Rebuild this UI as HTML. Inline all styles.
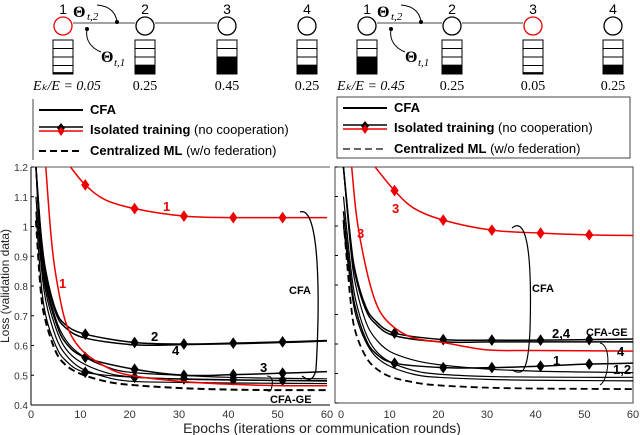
<!DOCTYPE html>
<html><head><meta charset="utf-8"><style>
body{margin:0;background:#fff;width:640px;height:435px;overflow:hidden}
svg{display:block;font-family:"Liberation Sans",sans-serif}
</style></head><body>
<svg id="c" width="640" height="435"></svg>
<script>
// ---- data ----
const yTicks=[0.4,0.5,0.6,0.7,0.8,0.9,1,1.1,1.2];
const yTickLabels=["0.4","0.5","0.6","0.7","0.8","0.9","1","1.1","1.2"];
const xTicks=[0,10,20,30,40,50,60];
const markerEpochs=[11,21,31,41,51];
// left panel
const L_isoRed_x=[8,11,15,21,31,41,51,60];
const L_isoRed_y=[1.2,1.14,1.09,1.06,1.035,1.03,1.03,1.03];
const L_cfaRed_x=[3,4,5,7,10,15,20,30,40,50,60];
const L_cfaRed_y=[1.2,0.98,0.84,0.68,0.59,0.53,0.50,0.48,0.47,0.465,0.465];
const L_iso2_x=[1,2,3,5,7,11,21,31,41,51,60];
const L_iso2_y=[1.2,0.98,0.85,0.72,0.67,0.638,0.61,0.605,0.608,0.612,0.617];
const L_iso4_y=[1.2,0.97,0.84,0.71,0.66,0.625,0.602,0.603,0.606,0.610,0.615];
const L_iso3_x=[1,2,3,5,7,11,21,31,41,51,60];
const L_iso3_y=[1.2,0.92,0.80,0.68,0.61,0.56,0.52,0.50,0.502,0.507,0.512];
const L_cfa_x=[1,2,3,5,7,10,15,20,30,40,50,60];
const L_cfaA_y=[1.2,0.95,0.82,0.69,0.62,0.57,0.53,0.51,0.50,0.493,0.49,0.488];
const L_cfaB_y=[1.2,0.92,0.78,0.66,0.59,0.545,0.51,0.495,0.487,0.484,0.482,0.48];
const L_cfaC_y=[1.1,0.88,0.75,0.63,0.57,0.525,0.495,0.48,0.476,0.474,0.473,0.472];
const L_ge_x=[1,2,3,5,7,11,21,31,41,51,60];
const L_ge_y=[1.05,0.82,0.70,0.60,0.55,0.51,0.493,0.488,0.485,0.483,0.482];
const L_cen_x=[1,2,3,5,7,10,15,20,30,40,50,60];
const L_cen_y=[1.02,0.78,0.68,0.58,0.535,0.505,0.48,0.468,0.457,0.452,0.45,0.45];
// right panel
const R_isoRed_x=[7,11,15,21,31,41,51,60];
const R_isoRed_y=[1.2,1.12,1.06,1.02,0.986,0.976,0.97,0.968];
const R_cfaRed_x=[2.2,3,4,6,8,11,15,21,30,40,60];
const R_cfaRed_y=[1.2,1.06,0.95,0.80,0.71,0.655,0.62,0.605,0.58,0.578,0.576];
const R_iso24_x=[0.5,2,3,5,7,11,21,31,41,51,60];
const R_iso24_y=[1.2,0.95,0.84,0.73,0.68,0.637,0.615,0.613,0.613,0.615,0.617];
const R_iso24b_y=[1.2,0.94,0.83,0.72,0.67,0.628,0.607,0.607,0.607,0.607,0.607];
const R_iso1_x=[0.5,2,3,5,7,11,21,31,41,51,60];
const R_iso1_y=[1.05,0.82,0.72,0.62,0.57,0.535,0.52,0.52,0.525,0.532,0.535];
const R_cfa_x=[0.5,2,3,5,7,10,15,20,30,40,50,60];
const R_cfaA_y=[1.2,0.92,0.80,0.68,0.62,0.575,0.545,0.53,0.515,0.508,0.505,0.503];
const R_cfaB_y=[1.1,0.86,0.75,0.64,0.58,0.54,0.51,0.498,0.49,0.488,0.487,0.487];
const R_cfaC_y=[1.0,0.80,0.70,0.61,0.56,0.525,0.497,0.487,0.48,0.477,0.476,0.475];
const R_cen_x=[0.5,2,3,5,7,10,15,20,30,40,50,60];
const R_cen_y=[1.02,0.74,0.64,0.56,0.52,0.49,0.47,0.46,0.452,0.449,0.448,0.447];

const NS="http://www.w3.org/2000/svg";
const svg=document.getElementById('c');
function el(t,a,p){const e=document.createElementNS(NS,t);for(const k in a)e.setAttribute(k,a[k]);(p||svg).appendChild(e);return e;}
function txt(s,a,p){const e=el('text',a,p);e.textContent=s;return e;}

function panel(x0,x1,yt,yb){
  return {sx:v=>x0+(x1-x0)*v/60, sy:v=>yb-(yb-yt)*(v-0.4)/0.8};
}
function smooth(pts){
  let d=`M${pts[0][0]},${pts[0][1]}`;
  for(let i=0;i<pts.length-1;i++){
    const p0=pts[i-1]||pts[i],p1=pts[i],p2=pts[i+1],p3=pts[i+2]||p2;
    const c1=[p1[0]+(p2[0]-p0[0])/6,p1[1]+(p2[1]-p0[1])/6];
    const c2=[p2[0]-(p3[0]-p1[0])/6,p2[1]-(p3[1]-p1[1])/6];
    d+=` C${c1[0]},${c1[1]} ${c2[0]},${c2[1]} ${p2[0]},${p2[1]}`;
  }
  return d;
}
function interp(xs,ys,x){for(let i=0;i<xs.length-1;i++){if(x>=xs[i]&&x<=xs[i+1]){const t=(x-xs[i])/(xs[i+1]-xs[i]);return ys[i]+t*(ys[i+1]-ys[i]);}}return ys[ys.length-1];}
function series(P,xs,ys,name,color,w,dash,markers,g){
  const pts=xs.map((x,i)=>[P.sx(x),P.sy(ys[i])]);
  const p=el('path',{d:smooth(pts),fill:'none',stroke:color,'stroke-width':w,'stroke-dasharray':dash||'none'},g);
  
  
  if(markers){markerEpochs.forEach(m=>{const cx=P.sx(m),cy=P.sy(interp(xs,ys,m));
    const d=el('path',{d:`M${cx},${cy-5} L${cx+3.5},${cy} L${cx},${cy+5} L${cx-3.5},${cy} Z`,fill:color,stroke:color,'stroke-width':1},g);
    
    });}
}

// ---- left panel ----
const PL=panel(31,327,167,405);
const gl=el('g',{});
el('line',{x1:31,y1:167,x2:31,y2:405,stroke:'#000','stroke-width':1},gl);
el('line',{x1:31,y1:405,x2:330,y2:405,stroke:'#000','stroke-width':1},gl);
el('line',{x1:31,y1:167,x2:330,y2:167,stroke:'#555','stroke-width':1},gl);
yTicks.forEach((v,i)=>{const y=PL.sy(v);el('line',{x1:31,y1:y,x2:34,y2:y,stroke:'#000'},gl);
  const t=txt(yTickLabels[i],{x:28,y:y+4,'font-size':10,'text-anchor':'end',fill:'#333'},gl);
  });
xTicks.forEach(v=>{const t=txt(String(v),{x:PL.sx(v),y:418,'font-size':11,'text-anchor':'middle',fill:'#333'},gl);
  });
series(PL,L_cen_x,L_cen_y,'centralized-line','#000',2,'7,4',false,gl);
series(PL,L_cfa_x,L_cfaA_y,'cfa-line-a','#000',1.2,null,false,gl);
series(PL,L_cfa_x,L_cfaB_y,'cfa-line-b','#000',1.2,null,false,gl);
series(PL,L_cfa_x,L_cfaC_y,'cfa-line-c','#000',1.2,null,false,gl);
series(PL,L_ge_x,L_ge_y,'cfa-ge-line','#000',1.2,null,true,gl);
series(PL,L_iso3_x,L_iso3_y,'isolated-3','#000',1.5,null,true,gl);
series(PL,L_iso2_x,L_iso4_y,'isolated-4','#000',1.5,null,false,gl);
series(PL,L_iso2_x,L_iso2_y,'isolated-2','#000',1.5,null,true,gl);
series(PL,L_cfaRed_x,L_cfaRed_y,'cfa-device-1','#e00',1.5,null,false,gl);
series(PL,L_isoRed_x,L_isoRed_y,'isolated-1','#e00',1.5,null,true,gl);
[['1',163,211,'#e00'],['1',59,288,'#e00'],['2',151,341,'#000'],['4',172,355,'#000'],['3',260,372,'#000']].forEach(a=>{
  const t=txt(a[0],{x:a[1],y:a[2],'font-size':13,'font-weight':'bold',fill:a[3]},gl);});
el('path',{d:'M300,212 C320,205 320,300 316,370 C312,385 305,378 302,376',fill:'none',stroke:'#000','stroke-width':1.3},gl);
txt('CFA',{x:289,y:294,'font-size':11,'font-weight':'bold'},gl);
el('path',{d:'M267,376 C272,376 273,380 272,386 C271,392 270,392 266,390',fill:'none',stroke:'#000','stroke-width':1},gl);
txt('CFA-GE',{x:270,y:403,'font-size':11,'font-weight':'bold'},gl);

// ---- right panel ----
const PR=panel(341,633,167,403);
const gr=el('g',{});
el('rect',{x:335,y:167,width:298,height:236,fill:'none',stroke:'#444','stroke-width':1},gr);
yTicks.forEach(v=>{const y=PR.sy(v);el('line',{x1:335,y1:y,x2:338,y2:y,stroke:'#000'},gr);});
xTicks.forEach(v=>{const t=txt(String(v),{x:PR.sx(v),y:418,'font-size':11,'text-anchor':'middle',fill:'#333'},gr);
  });
series(PR,R_cen_x,R_cen_y,'centralized-line','#000',1.8,'7,4',false,gr);
series(PR,R_cfa_x,R_cfaA_y,'cfa-line-a','#000',1.2,null,false,gr);
series(PR,R_cfa_x,R_cfaB_y,'cfa-line-b','#000',1.2,null,false,gr);
series(PR,R_cfa_x,R_cfaC_y,'cfa-line-c','#000',1.2,null,false,gr);
series(PR,R_iso1_x,R_iso1_y,'isolated-1','#000',1.5,null,true,gr);
series(PR,R_iso24_x,R_iso24b_y,'isolated-4','#000',1.5,null,false,gr);
series(PR,R_iso24_x,R_iso24_y,'isolated-2','#000',1.5,null,true,gr);
series(PR,R_cfaRed_x,R_cfaRed_y,'cfa-device-3','#e00',1.5,null,false,gr);
series(PR,R_isoRed_x,R_isoRed_y,'isolated-3','#e00',1.5,null,true,gr);
[['3',392,213,'#e00'],['3',357,238,'#e00'],['2,4',552,338,'#000'],['1',553,365,'#000'],['4',617,356,'#000'],['1,2',613,374,'#000']].forEach(a=>{
  const t=txt(a[0],{x:a[1],y:a[2],'font-size':13,'font-weight':'bold',fill:a[3]},gr);});
txt('CFA-GE',{x:586,y:336,'font-size':11,'font-weight':'bold'},gr);
el('path',{d:'M512,228 C528,215 532,260 530,330 C528,375 522,375 512,370',fill:'none',stroke:'#000','stroke-width':1.2},gr);
txt('CFA',{x:532,y:292,'font-size':11,'font-weight':'bold'},gr);
el('path',{d:'M600,343 C612,345 609,380 600,385',fill:'none',stroke:'#000','stroke-width':1},gr);

// axis titles
let t=txt('Loss (validation data)',{x:0,y:0,'font-size':12,'text-anchor':'middle',transform:'translate(9,286) rotate(-90)',fill:'#222'});

t=txt('Epochs (iterations or communication rounds)',{x:322,y:433,'font-size':14,'text-anchor':'middle',fill:'#222'});


// ---- legends ----
function legend(x,y,w,full){
  const g=el('g',{});
  if(full) el('rect',{x:x,y:y,width:w,height:61,fill:'none',stroke:'#444'},g);
  else el('line',{x1:x,y1:y,x2:x,y2:y+61,stroke:'#444'},g);
  const lx=x+6,tx=x+57;
  el('line',{x1:lx,y1:y+11,x2:lx+44,y2:y+11,stroke:'#000','stroke-width':2},g);
  txt('CFA',{x:tx,y:y+15,'font-size':13,'font-weight':'bold'},g);
  el('line',{x1:lx,y1:y+28,x2:lx+44,y2:y+28,stroke:'#000','stroke-width':1.5},g);
  el('line',{x1:lx,y1:y+32,x2:lx+44,y2:y+32,stroke:'#e00','stroke-width':1.5},g);
  const cx=lx+22;
  el('path',{d:`M${cx},${y+24} L${cx+4},${y+29} L${cx},${y+34} L${cx-4},${y+29}Z`,fill:'#000'},g);
  el('path',{d:`M${cx},${y+28} L${cx+3.5},${y+32} L${cx},${y+37} L${cx-3.5},${y+32}Z`,fill:'#e00'},g);
  const l2=txt('',{x:tx,y:y+35,'font-size':13},g);
  const b=document.createElementNS(NS,'tspan');b.setAttribute('font-weight','bold');b.textContent='Isolated training';l2.appendChild(b);
  const n=document.createElementNS(NS,'tspan');n.textContent=' (no cooperation)';l2.appendChild(n);
  el('line',{x1:lx,y1:y+52,x2:lx+44,y2:y+52,stroke:full?'#666':'#000','stroke-width':2,'stroke-dasharray':'7,4'},g);
  const l3=txt('',{x:tx,y:y+56,'font-size':13},g);
  const b2=document.createElementNS(NS,'tspan');b2.setAttribute('font-weight','bold');b2.textContent='Centralized ML';l3.appendChild(b2);
  const n2=document.createElementNS(NS,'tspan');n2.textContent=' (w/o federation)';l3.appendChild(n2);
}
legend(33,99,285,false);
legend(337,97,293,true);

// ---- topology diagrams ----
function topo(xs,red,fills,labelFirst){
  const g=el('g',{});
  xs.forEach((x,i)=>{
    txt(String(i+1),{x:x,y:14,'font-size':14,'text-anchor':'middle'},g);
    const c=el('circle',{cx:x,cy:26,r:9,fill:'#fff',stroke:i===red?'#e00':'#000','stroke-width':1.3},g);
    
    const bx=x-10,by=40,bh=34;
    el('rect',{x:bx,y:by,width:20,height:bh,fill:'#fff',stroke:'#000'},g);
    for(let k=1;k<4;k++) el('line',{x1:bx,y1:by+k*bh/4,x2:bx+20,y2:by+k*bh/4,stroke:'#000'},g);
    const fh=bh*fills[i]/0.5*0.55;
    el('rect',{x:bx,y:by+bh-fh,width:20,height:fh,fill:'#000'},g);
    txt(i===0?labelFirst:fills[i].toFixed(2),{x:i===0?x-30:x,y:90,'font-size':14,'font-family':'Liberation Serif','font-style':i===0?'italic':'normal','text-anchor':i===0?'start':'middle'},g);
  });
  el('line',{x1:xs[0]+10,y1:23,x2:xs[1]-10,y2:23,stroke:'#444'},g);
  el('line',{x1:xs[1]+10,y1:23,x2:xs[2]-10,y2:23,stroke:'#444'},g);
  el('circle',{cx:xs[0]+54,cy:22,r:2,fill:'#000'},g);
  el('circle',{cx:xs[0]+24,cy:29,r:2,fill:'#000'},g);
  el('path',{d:`M${xs[0]+34},${5} C${xs[0]+48},${6} ${xs[0]+53},${14} ${xs[0]+54},${22}`,fill:'none',stroke:'#000'},g);
  el('path',{d:`M${xs[0]+24},${29} C${xs[0]+22},${40} ${xs[0]+28},${48} ${xs[0]+38},${52}`,fill:'none',stroke:'#000'},g);
  txt('Θ',{x:xs[0]+10,y:17,'font-size':16,'font-weight':'bold','font-family':'Liberation Serif'},g);
  txt('t,2',{x:xs[0]+24,y:20,'font-size':11,'font-style':'italic','font-family':'Liberation Serif'},g);
  txt('Θ',{x:xs[0]+38,y:62,'font-size':16,'font-weight':'bold','font-family':'Liberation Serif'},g);
  txt('t,1',{x:xs[0]+51,y:66,'font-size':11,'font-style':'italic','font-family':'Liberation Serif'},g);
}
topo([63,145,227,307],0,[0.05,0.25,0.45,0.25],'Eₖ/E = 0.05');
topo([367,452,533,613],2,[0.45,0.25,0.05,0.25],'Eₖ/E = 0.45');
</script>
</body></html>
